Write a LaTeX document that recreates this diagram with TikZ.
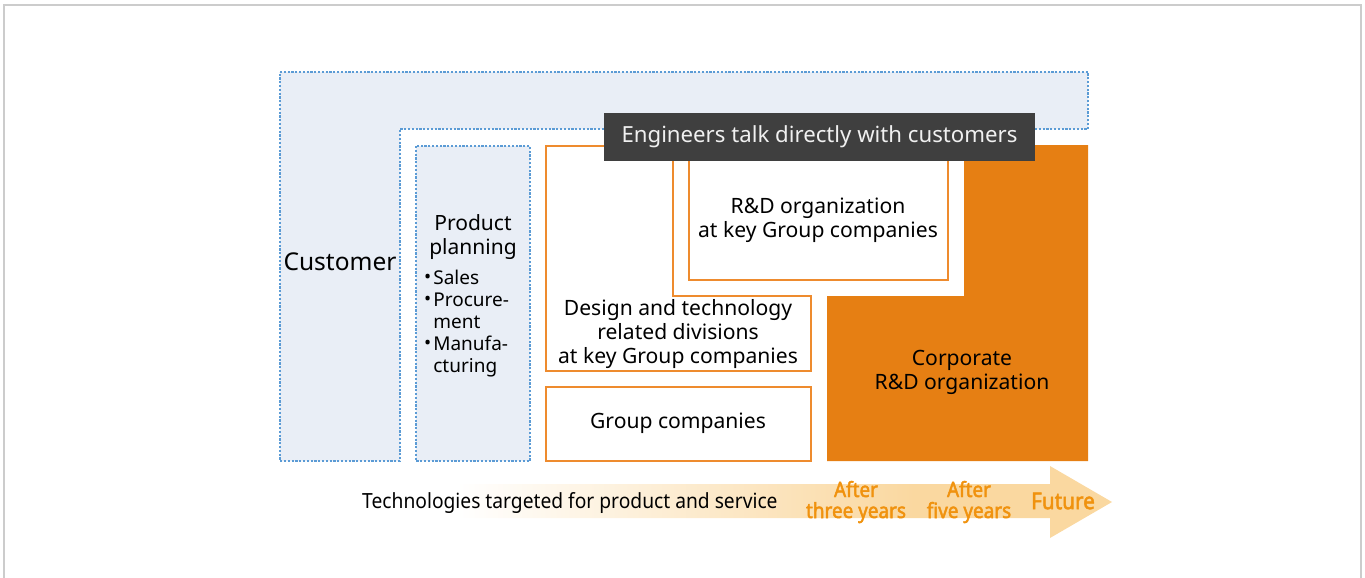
\documentclass[tikz,border=0pt]{standalone}
\usepackage{fontspec}
\setmainfont{Noto Sans}
\newfontfamily\narrowfont[FakeStretch=0.92]{Noto Sans}
\newfontfamily\narrowbold[FakeStretch=0.9, FakeBold=2.2]{Noto Sans}
\usepackage{xcolor}
\usetikzlibrary{positioning}

\definecolor{custfill}{HTML}{E9EEF6}
\definecolor{custline}{HTML}{5B9BD5}
\definecolor{orgline}{HTML}{EE8B2E}
\definecolor{orgfill}{HTML}{E67F13}
\definecolor{tagfill}{HTML}{3F3F3F}
\definecolor{arrfill}{HTML}{FAD8A0}
\definecolor{yrtext}{HTML}{F0920E}

\pgfdeclarehorizontalshading{arrshade}{100bp}{%
  color(0bp)=(white); color(32bp)=(white);
  color(62bp)=(arrfill); color(100bp)=(arrfill)}

\newcommand{\planbul}{\raisebox{0.1ex}{\textbullet}}

\begin{document}
\begin{tikzpicture}[x=1pt, y=-1pt,
  txt/.style    = {align=center, inner sep=0pt,
                   font=\fontsize{21.1}{24}\selectfont},
  dotbox/.style = {draw=custline, fill=custfill, line width=1.4pt,
                   dash pattern=on 2.2pt off 1.6pt},
  orgbox/.style = {draw=orgline, fill=white, line width=1.6pt},
  yrs/.style    = {align=center, inner sep=0pt, text=yrtext,
                   font=\narrowbold\fontsize{21}{21}\selectfont},
]

%% -- Page and frame --------------------------------------------------------
\useasboundingbox (0,0) rectangle (1365,578);
\draw[black!20, line width=1.5pt] (4,5) rectangle (1361,600);

%% -- Customer side (blue, dotted) ------------------------------------------
\draw[dotbox] (280,72) -- (1088,72) -- (1088,129) -- (400,129)
  -- (400,461) -- (280,461) -- cycle;
\node[txt, font=\fontsize{24.5}{28}\selectfont] (cust) at (340,262) {Customer};

\draw[dotbox] (416,146) rectangle (530,461);
\node[txt, font=\fontsize{21}{24}\selectfont] (plan) at (473,237) {Product\\planning};
\node[inner sep=0pt, anchor=north west, font=\fontsize{19}{22}\selectfont]
  (planlist) at (424,269) {%
  \begin{tabular}{@{}l@{\hspace{2pt}}l@{}}
    \planbul & Sales\\
    \planbul & Procure-\\
             & ment\\
    \planbul & Manufa-\\
             & cturing
  \end{tabular}};

%% -- Group side (orange) ---------------------------------------------------
\draw[orgbox] (546,146) -- (673,146) -- (673,296) -- (811,296)
  -- (811,371) -- (546,371) -- cycle;
\node[txt] (design) at (678,334)
  {Design and technology\\related divisions\\at key Group companies};

\draw[orgbox] (689,155) rectangle (948,280);
\node[txt] (keyrd) at (818,220) {R\&D organization\\at key Group companies};

\draw[orgbox] (546,387) rectangle (811,461);
\node[txt] (group) at (678,423) {Group companies};

\fill[orgfill] (827,296) -- (964,296) -- (964,145) -- (1088,145)
  -- (1088,461) -- (827,461) -- cycle;
\node[txt] (corp) at (962,372) {Corporate\\R\&D organization};

%% -- Label on top ----------------------------------------------------------
\node[fill=tagfill, text=black!6, minimum width=431pt, minimum height=48pt,
      inner sep=0pt, font=\fontsize{22.2}{24}\selectfont]
  (talk) at (819.5,137) {Engineers talk directly with customers};

%% -- Time arrow ------------------------------------------------------------
\shade[shading=arrshade] (350,484) -- (1050,484) -- (1050,466) -- (1112,502)
  -- (1050,538) -- (1050,518) -- (350,518) -- cycle;
\node[inner sep=0pt, anchor=west, font=\narrowfont\fontsize{20.9}{22}\selectfont]
  (tech) at (362,503) {Technologies targeted for product and service};
\node[yrs] (yr3) at (856,502) {After\\three years};
\node[yrs] (yr5) at (969,502) {After\\five years};
\node[yrs, font=\narrowbold\fontsize{23}{23}\selectfont] (fut) at (1063,501) {Future};

\end{tikzpicture}
\end{document}
